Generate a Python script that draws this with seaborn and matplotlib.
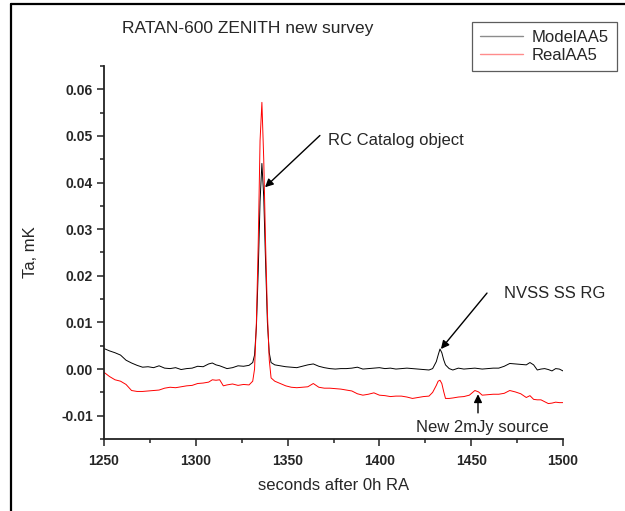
import numpy as np
import pandas as pd
import matplotlib
matplotlib.use("Agg")
import matplotlib.pyplot as plt
from matplotlib.lines import Line2D
import seaborn as sns

# ---------------- data ----------------
ra_seconds = [
    1250, 1253, 1256, 1259, 1262, 1265, 1268, 1271, 1274, 1277,
    1280, 1283, 1286, 1289, 1292, 1295, 1298, 1301, 1304, 1307,
    1309, 1311, 1313, 1315, 1317, 1320, 1323, 1326, 1329, 1331,
    1332, 1333, 1334, 1335, 1336, 1337, 1338, 1339, 1340, 1341,
    1343, 1346, 1349, 1352, 1355, 1358, 1361, 1364, 1367, 1370,
    1373, 1376, 1379, 1382, 1385, 1388, 1391, 1394, 1397, 1400,
    1403, 1406, 1409, 1412, 1415, 1418, 1421, 1424, 1427, 1429,
    1431, 1432, 1433, 1434, 1435, 1436, 1438, 1440, 1443, 1446,
    1449, 1452, 1454, 1456, 1459, 1462, 1465, 1468, 1471, 1474,
    1477, 1480, 1482, 1484, 1486, 1488, 1490, 1492, 1494, 1496,
    1498, 1500,
]

model_aa5 = [
    0.0044, 0.0039, 0.0035, 0.0030, 0.0019, 0.0013, 0.0008, 0.0004, 0.0005, 0.0003,
    0.0007, 0.0002, 0.0001, 0.0003, -0.0001, 0.0001, 0.0002, 0.0006, 0.0005, 0.0011,
    0.0013, 0.0009, 0.0007, 0.0004, 0.0001, 0.0003, 0.0007, 0.0006, 0.0008, 0.0014,
    0.0030, 0.0090, 0.0210, 0.0360, 0.0441, 0.0370, 0.0230, 0.0100, 0.0035, 0.0014,
    0.0009, 0.0007, 0.0005, 0.0004, 0.0003, 0.0006, 0.0009, 0.0011, 0.0006, 0.0003,
    0.0001, 0.0000, 0.0001, 0.0001, 0.0002, 0.0004, 0.0000, 0.0001, 0.0002, 0.0003,
    0.0001, 0.0002, 0.0000, 0.0001, 0.0002, 0.0001, 0.0000, -0.0001, -0.0002, 0.0001,
    0.0016, 0.0030, 0.0043, 0.0035, 0.0020, 0.0009, 0.0001, -0.0002, 0.0002, 0.0000,
    0.0001, 0.0002, 0.0001, 0.0000, 0.0001, 0.0002, 0.0002, 0.0006, 0.0012, 0.0011,
    0.0010, 0.0009, 0.0014, 0.0009, -0.0002, 0.0000, 0.0001, -0.0001, -0.0004, 0.0001,
    0.0000, -0.0004,
]

real_aa5 = [
    -0.0007, -0.0016, -0.0023, -0.0026, -0.0033, -0.0046, -0.0048, -0.0048, -0.0047, -0.0046,
    -0.0045, -0.0041, -0.0039, -0.0040, -0.0038, -0.0036, -0.0035, -0.0031, -0.0030, -0.0028,
    -0.0023, -0.0024, -0.0023, -0.0036, -0.0034, -0.0032, -0.0035, -0.0033, -0.0034, -0.0026,
    0.0000, 0.0100, 0.0270, 0.0490, 0.0572, 0.0450, 0.0270, 0.0120, 0.0020, -0.0019,
    -0.0026, -0.0031, -0.0036, -0.0039, -0.0040, -0.0039, -0.0038, -0.0031, -0.0039, -0.0041,
    -0.0041, -0.0042, -0.0043, -0.0045, -0.0047, -0.0053, -0.0056, -0.0054, -0.0051, -0.0056,
    -0.0057, -0.0059, -0.0058, -0.0058, -0.0060, -0.0063, -0.0061, -0.0059, -0.0058, -0.0050,
    -0.0035, -0.0026, -0.0024, -0.0031, -0.0048, -0.0063, -0.0063, -0.0062, -0.0060, -0.0059,
    -0.0056, -0.0046, -0.0049, -0.0056, -0.0055, -0.0054, -0.0054, -0.0052, -0.0046, -0.0049,
    -0.0053, -0.0061, -0.0057, -0.0065, -0.0066, -0.0066, -0.0070, -0.0074, -0.0073, -0.0071,
    -0.0072, -0.0072,
]

series_names = ["ModelAA5", "RealAA5"]
x_ticks = [1250, 1300, 1350, 1400, 1450, 1500]
y_ticks = [-0.01, 0.00, 0.01, 0.02, 0.03, 0.04, 0.05, 0.06]
y_tick_labels = ["-0.01", "0.00", "0.01", "0.02", "0.03", "0.04", "0.05", "0.06"]

assert len(ra_seconds) == len(model_aa5) == len(real_aa5)

df = pd.concat([
    pd.DataFrame({"ra": ra_seconds, "Ta": model_aa5, "series": series_names[0]}),
    pd.DataFrame({"ra": ra_seconds, "Ta": real_aa5, "series": series_names[1]}),
], ignore_index=True)

# ---------------- style ----------------
sns.set_style("ticks")
plt.rcParams["font.family"] = ["Liberation Sans", "DejaVu Sans"]

W, H = 625, 511
fig = plt.figure(figsize=(W / 100, H / 100), dpi=100)
fig.patch.set_facecolor("white")
ax = fig.add_axes([104 / W, 1 - 439 / H, (563 - 104) / W, (439 - 66) / H])

sns.lineplot(data=df, x="ra", y="Ta", hue="series", ax=ax,
             palette={"ModelAA5": "black", "RealAA5": "red"},
             linewidth=0.7, estimator=None, sort=False, legend=False)

ax.set_xlim(1250, 1500)
ax.set_ylim(-0.015, 0.065)
ax.set_xticks(x_ticks)
ax.set_xticklabels([str(v) for v in x_ticks])
ax.set_yticks(y_ticks)
ax.set_yticklabels(y_tick_labels)
ax.set_xticks(np.arange(1275, 1500, 50), minor=True)
ax.set_yticks(np.arange(-0.015, 0.066, 0.01), minor=True)

for s in ["top", "right"]:
    ax.spines[s].set_visible(False)
for s in ["left", "bottom"]:
    ax.spines[s].set_linewidth(1.3)
    ax.spines[s].set_color("#222222")

ax.tick_params(axis="both", which="major", direction="out", length=5, width=1.1,
               color="#222222", labelsize=10, pad=3)
ax.tick_params(axis="x", which="major", pad=6)
ax.tick_params(axis="both", which="minor", direction="out", length=3, width=1.1,
               color="#222222")
for lab in ax.get_xticklabels() + ax.get_yticklabels():
    lab.set_fontweight("bold")

ax.set_xlabel("seconds after 0h RA", fontsize=12, labelpad=7)
ax.set_ylabel("Ta, mK", fontsize=12, labelpad=17)

# title text
fig.text(248 / W, 1 - 28 / H, "RATAN-600 ZENITH new survey", fontsize=12.5,
         ha="center", va="center")

# legend
handles = [Line2D([], [], color="black", lw=1.0, alpha=0.45),
           Line2D([], [], color="red", lw=1.0, alpha=0.45)]
leg = ax.legend(handles, series_names, loc="upper right",
                bbox_to_anchor=(617 / W, 1 - 22 / H), bbox_transform=fig.transFigure,
                borderaxespad=0, frameon=True, fancybox=False, fontsize=12,
                handlelength=2.6, handletextpad=0.5, labelspacing=0.15,
                borderpad=0.5)
leg.get_frame().set_edgecolor("#333333")
leg.get_frame().set_linewidth(0.9)

# annotations
arrow = dict(arrowstyle="-|>", color="black", lw=1.0, mutation_scale=12,
             shrinkA=0, shrinkB=0)
ax.annotate("", xy=(1337.7, 0.0390), xytext=(1367.6, 0.0501), arrowprops=arrow)
ax.text(1372, 0.0491, "RC Catalog object", fontsize=12, va="center", ha="left")

ax.annotate("", xy=(1433.5, 0.0043), xytext=(1458.6, 0.0163), arrowprops=arrow)
ax.text(1467.9, 0.0163, "NVSS SS RG", fontsize=12, va="center", ha="left")

ax.annotate("", xy=(1453.7, -0.0054), xytext=(1453.7, -0.0094), arrowprops=arrow)
ax.text(1419.9, -0.0126, "New 2mJy source", fontsize=12, va="center", ha="left")

# outer frame lines (left and top)
fig.add_artist(Line2D([10.5 / W, 10.5 / W], [0, 1 - 4.5 / H], transform=fig.transFigure,
                      color="black", lw=1.6))
fig.add_artist(Line2D([10.5 / W, 1], [1 - 4.5 / H, 1 - 4.5 / H], transform=fig.transFigure,
                      color="black", lw=1.6))

fig.savefig("out.png", dpi=100)
